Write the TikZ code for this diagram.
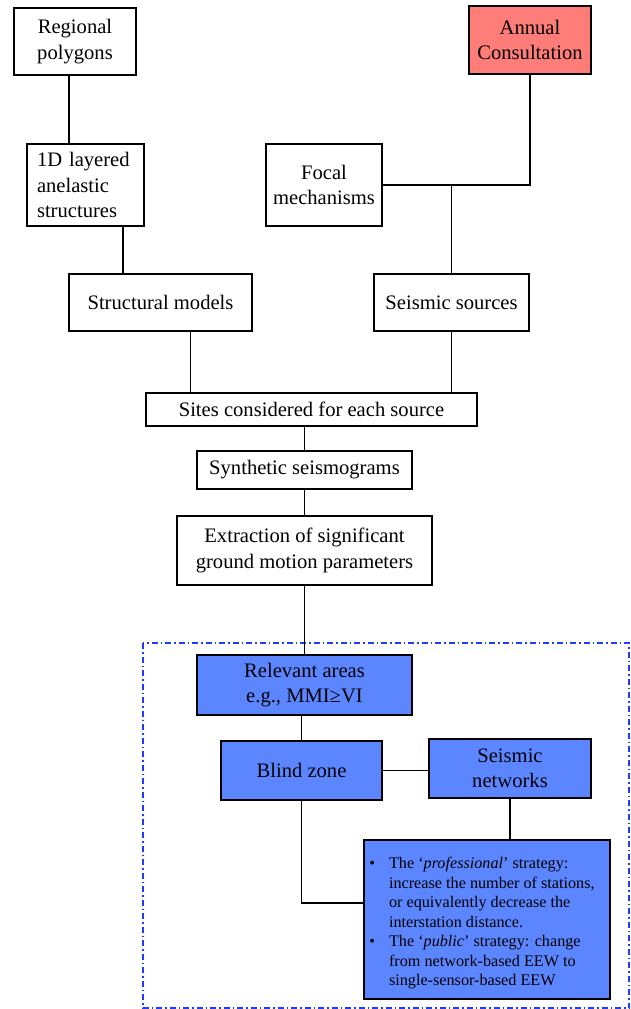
\documentclass[tikz,border=0pt]{standalone}
\usepackage{fontspec}
\setmainfont{Liberation Serif}
\usetikzlibrary{calc}
\definecolor{salmonfill}{RGB}{255,125,120}
\definecolor{bluefill}{RGB}{91,134,255}
\definecolor{dashblue}{RGB}{30,60,255}
\begin{document}
\begin{tikzpicture}[x=1pt,y=-1pt,
  box/.style={draw=black, line width=1.3pt, fill=white, inner sep=0pt, align=center,
              font=\fontsize{20.6}{25.5}\selectfont},
  redbox/.style={box, fill=salmonfill},
  bluebox/.style={box, fill=bluefill},
  link/.style={draw=black, line width=1.5pt},
  dashbox/.style={draw=dashblue, line width=1.2pt, dash pattern=on 6pt off 3pt on 1.5pt off 3pt}]
\useasboundingbox (0,0) rectangle (631,1009);

% dashed frame
\draw[dashbox] (143,643) rectangle (629,1008);

% nodes
\node[box, minimum width=122pt, minimum height=67pt] (reg) at (75,41.5) {Regional\\polygons};
\node[redbox, minimum width=122pt, minimum height=68pt] (ann) at (530,40) {Annual\\Consultation};
\node[box, minimum width=117pt, minimum height=82pt, text width=97pt, align=left] (lay) at (85.5,185) {1D layered\\anelastic\\structures};
\node[box, minimum width=116pt, minimum height=82pt] (foc) at (324,185) {Focal\\mechanisms};
\node[box, minimum width=183pt, minimum height=57pt] (str) at (160.5,302.5) {Structural models};
\node[box, minimum width=155pt, minimum height=57pt] (src) at (451.5,302.5) {Seismic sources};
\node[box, minimum width=331pt, minimum height=33pt] (sites) at (311.5,409.5) {Sites considered for each source};
\node[box, minimum width=215pt, minimum height=38pt] (syn) at (304.5,470) {Synthetic seismograms};
\node[box, minimum width=255pt, minimum height=69pt] (ext) at (304.5,550.5) {Extraction of significant\\ground motion parameters};
\node[bluebox, minimum width=215pt, minimum height=60pt] (rel) at (304.5,685) {Relevant areas\\e.g., MMI≥VI};
\node[bluebox, minimum width=161pt, minimum height=59pt] (blind) at (301.5,770.5) {Blind zone};
\node[bluebox, minimum width=162pt, minimum height=59pt] (net) at (510,768.5) {Seismic\\networks};
\node[bluebox, minimum width=246pt, minimum height=159pt, align=left,
      font=\fontsize{16.2}{19.5}\selectfont] (bul) at (487,919.5)
 {\raisebox{0pt}[\dimexpr\height+8pt\relax][\depth]{\begin{tabular}{@{}l@{\hspace{14pt}}l@{\hspace{10pt}}}
  • & The ‘\textit{professional}’ strategy:\\
    & increase the number of stations,\\
    & or equivalently decrease the\\
    & interstation distance.\\
  • & The ‘\textit{public}’ strategy: change\\
    & from network-based EEW to\\
    & single-sensor-based EEW
  \end{tabular}}};

% connectors
\draw[link] ([xshift=-6pt]reg.south) -- ([xshift=-6pt]reg.south |- lay.north);
\draw[link] ([xshift=37.5pt]lay.south) -- ([xshift=37.5pt]lay.south |- str.north);
\draw[link] (ann.south) |- (foc.east);
\draw[link] (src.north |- foc.east) -- (src.north);
\draw[link] ([xshift=30pt]str.south) -- ([xshift=30pt]str.south |- sites.north);
\draw[link] (src.south) -- (src.south |- sites.north);
\draw[link] (syn.north |- sites.south) -- (syn.north);
\draw[link] (syn.south) -- (ext.north);
\draw[link] (ext.south) -- (rel.north);
\draw[link] (blind.north |- rel.south) -- (blind.north);
\draw[link] (blind.east) -- (blind.east -| net.west);
\draw[link] (net.south) -- (net.south |- bul.north);
\draw[link] (blind.south) |- ([yshift=16.5pt]bul.west);
\end{tikzpicture}
\end{document}
